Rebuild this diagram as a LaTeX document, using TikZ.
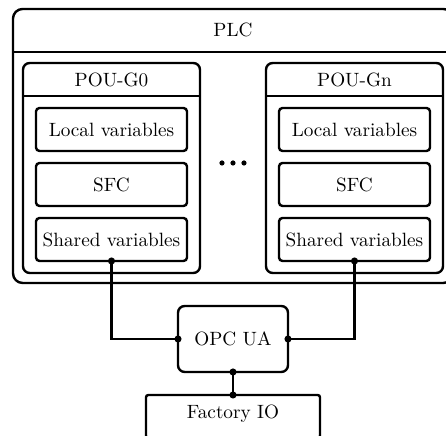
\documentclass[tikz,border=0pt]{standalone}
\usetikzlibrary{arrows.meta}

% one drawing unit, used for sizes given in the same units as coordinates
\newcommand{\pxu}{0.52pt}

\tikzset{
  every picture/.style={x=0.52pt, y=-0.52pt, line width=1.25pt},
  frame/.style={draw, rectangle, inner sep=0pt, outer sep=0pt},
  outerbox/.style={frame, rounded corners=5pt},
  groupbox/.style={frame, rounded corners=3.5pt},
  itembox/.style={frame, rounded corners=1.8pt,
    minimum width=151*\pxu, minimum height=43*\pxu},
  hubbox/.style={frame, rounded corners=3.5pt},
  plainbox/.style={frame, rounded corners=1.2pt},
  label/.style={inner sep=0pt},
  % round joints sit centred on the box borders
  link/.style={{Circle[length=3.6pt]}-{Circle[length=3.6pt]},
    shorten <=-1.8pt, shorten >=-1.8pt},
  dot/.style={circle, fill, inner sep=0pt, minimum size=5.2*\pxu},
}

\begin{document}
\begin{tikzpicture}
  \useasboundingbox (0,0) rectangle (446,436);
  \clip (0,0) rectangle (446,436);

  % controller frame with its title band
  \node[outerbox, minimum width=440*\pxu, minimum height=274*\pxu] (plc) at (233,146) {};
  \draw (13,52) -- (453,52);
  \node[label] (plct) at (233,30) {PLC};

  % first program organisation unit
  \node[groupbox, minimum width=177*\pxu, minimum height=210*\pxu] (g0) at (111.5,168) {};
  \draw (23,96) -- (200,96);
  \node[label] (g0t) at (111.5,80) {POU-G0};
  \node[itembox] (g0loc) at (111.5,129.5) {Local variables};
  \node[itembox] (g0sfc) at (111.5,184.5) {SFC};
  \node[itembox] (g0sh)  at (111.5,239.5) {Shared variables};

  % last program organisation unit
  \node[groupbox, minimum width=177*\pxu, minimum height=210*\pxu] (gn) at (354.5,168) {};
  \draw (266,96) -- (443,96);
  \node[label] (gnt) at (354.5,80) {POU-Gn};
  \node[itembox] (gnloc) at (354.5,129.5) {Local variables};
  \node[itembox] (gnsfc) at (354.5,184.5) {SFC};
  \node[itembox] (gnsh)  at (354.5,239.5) {Shared variables};

  % ellipsis between the units
  \node[dot] (e1) at (222,163) {};
  \node[dot] (e2) at (233,163) {};
  \node[dot] (e3) at (244,163) {};

  % communication server and the simulated plant
  \node[hubbox, minimum width=110*\pxu, minimum height=66*\pxu] (opc) at (233,339) {OPC UA};
  \node[plainbox, minimum width=174*\pxu, minimum height=43*\pxu] (fio) at (233,416.5) {};
  \node[label] (fiot) at (233,414) {Factory IO};

  % links
  \draw[link] (g0sh.south) |- (opc.west);
  \draw[link] (gnsh.south) |- (opc.east);
  \draw[link] (opc.south) -- (fio.north);
\end{tikzpicture}
\end{document}
